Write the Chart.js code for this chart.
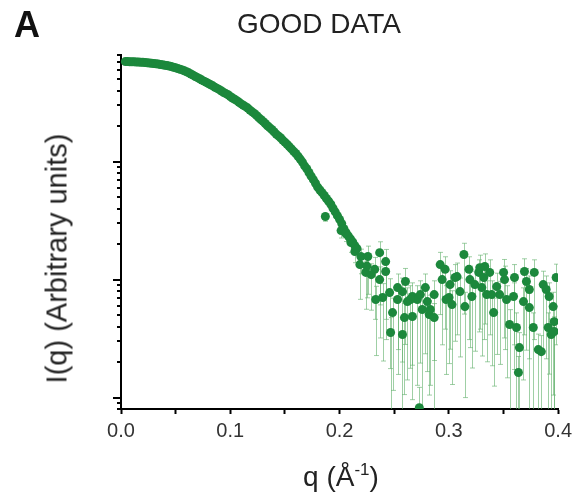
<!DOCTYPE html>
<html>
<head>
<meta charset="utf-8">
<script src="https://cdn.jsdelivr.net/npm/chart.js@4.4.1/dist/chart.umd.min.js"></script>
<style>
  body { margin: 0; background: #fff; }
  #wrap { position: relative; width: 577px; height: 497px; font-family: "Liberation Sans", Arial, sans-serif; color: #222; }
  #c { position: absolute; left: 0; top: 0; }
  .lbl { position: absolute; white-space: nowrap; line-height: 1; }
</style>
</head>
<body>
<div id="wrap">
  <canvas id="c" width="577" height="497"></canvas>
  <div class="lbl" style="left:14px; top:7px; font-size:36px; font-weight:bold; color:#111;">A</div>
  <div class="lbl" style="left:237px; top:10px; font-size:28px;">GOOD DATA</div>
  <div class="lbl" style="left:-78px; top:244px; width:270px; text-align:center; font-size:29px; transform:rotate(-90deg);">I(q) (Arbitrary units)</div>
  <div class="lbl" style="left:241px; top:461px; width:200px; text-align:center; font-size:28px;">q (Å<sup style="font-size:17px; vertical-align:11px;">-1</sup>)</div>
</div>
<script>
// q in 1/Å, intensity in arbitrary units (log axis)

// low q: smooth region, error bars smaller than the markers
const qLow = [0.004, 0.006, 0.008, 0.010, 0.012, 0.014, 0.016, 0.018, 0.020, 0.022,
              0.024, 0.026, 0.028, 0.030, 0.032, 0.034, 0.036, 0.038, 0.040, 0.042,
              0.044, 0.046, 0.048, 0.050, 0.052, 0.054, 0.056, 0.058, 0.060, 0.062,
              0.064, 0.066, 0.068, 0.070, 0.072, 0.074, 0.076, 0.078, 0.080, 0.082,
              0.084, 0.086, 0.088, 0.090, 0.092, 0.094, 0.096, 0.098, 0.100, 0.102,
              0.104, 0.106, 0.108, 0.110, 0.112, 0.114, 0.116, 0.118, 0.120, 0.122,
              0.124, 0.126, 0.128, 0.130, 0.132, 0.134, 0.136, 0.138, 0.140, 0.142,
              0.144, 0.146, 0.148, 0.150, 0.152, 0.154, 0.156, 0.158, 0.160, 0.162,
              0.164, 0.166, 0.168, 0.170, 0.172, 0.174, 0.176, 0.178, 0.180, 0.182,
              0.184, 0.186, 0.188, 0.190, 0.192, 0.194, 0.196, 0.198, 0.200, 0.202,
              0.204, 0.206, 0.208, 0.210, 0.212, 0.214, 0.216];
const iLow = [703, 704, 702, 701, 700, 698, 697, 695, 693, 691,
              688, 684, 681, 678, 674, 670, 664, 661, 655, 651,
              646, 638, 630, 623, 614, 606, 598, 587, 577, 565,
              552, 540, 526, 514, 503, 490, 480, 470, 459, 448,
              438, 426, 417, 407, 396, 385, 376, 368, 356, 346,
              337, 328, 318, 308, 300, 292, 284, 273, 264, 256,
              246, 236, 227, 219, 210, 201, 194, 187, 179, 171,
              165, 159, 152, 146, 140, 134, 128, 122, 117, 111,
              105, 99, 92, 87, 80.7, 75.2, 70.3, 65.5, 60.7, 57.4,
              54.5, 51.6, 48.6, 46.1, 43.5, 40.2, 37.5, 34.8, 32.4, 29.8,
              27.0, 25.0, 23.4, 22.1, 20.8, 19.4, 18.3];

// high q: noisy region with visible error bars
const qHigh = [0.187, 0.2014, 0.2059, 0.2104, 0.214, 0.2195,
               0.2186, 0.2240, 0.2259, 0.2322, 0.2331, 0.2367, 0.2367, 0.2395, 0.2422, 0.2422,
               0.2458, 0.2467, 0.2485, 0.2531, 0.2531, 0.2576, 0.2594, 0.2603, 0.2621, 0.2667,
               0.2667, 0.2712, 0.2730, 0.2757, 0.2785, 0.2803, 0.2821, 0.2866, 0.2866, 0.2921,
               0.2939, 0.2966, 0.3002, 0.3011, 0.3029, 0.3075, 0.3102, 0.3138, 0.3147, 0.3184,
               0.3193, 0.3211, 0.3238, 0.3274, 0.3320, 0.3329, 0.3347, 0.3374, 0.3410, 0.3438,
               0.3465, 0.3501, 0.3510, 0.3528, 0.3556, 0.3592, 0.3601, 0.3619, 0.3637, 0.3646,
               0.3683, 0.3692, 0.3710, 0.3737, 0.3737, 0.3773, 0.3782, 0.3819, 0.3846, 0.3864,
               0.3891, 0.3909, 0.3918, 0.3937, 0.3955, 0.3964, 0.3964, 0.3982,
               0.2250, 0.2290, 0.2576, 0.2649, 0.2739, 0.2830, 0.2975, 0.3057, 0.3283, 0.3302,
               0.3392];
const iHigh = [34.2, 26.0, 24.4, 20.6, 17.3, 15.7,
               13.4, 11.5, 15.7, 12.2, 6.77, 16.9, 10.0, 7.04, 14.2, 11.7,
               7.76, 3.56, 5.25, 6.77, 8.55, 3.42, 4.76, 9.62, 6.51, 7.18,
               4.86, 6.77, 0.82, 5.57, 8.55, 6.51, 5.05, 4.76, 7.46, 13.4,
               10.0, 12.2, 7.04, 9.07, 6.14, 10.6, 7.91, 16.3, 5.90, 12.2,
               10.0, 7.18, 9.07, 11.5, 10.4, 12.9, 7.46, 11.5, 5.25, 8.72,
               7.46, 11.5, 10.0, 6.77, 4.16, 7.18, 10.4, 3.92, 1.63, 2.65,
               6.51, 11.7, 9.62, 8.23, 5.79, 3.92, 11.5, 2.55, 2.45, 9.07,
               8.23, 3.92, 7.18, 3.42, 5.90, 4.40, 3.63, 10.4,
               13.0, 11.0, 7.9, 6.77, 7.46, 5.57, 6.77, 10.4, 12.6, 8.55,
               7.46];
const errPlus = [2.0, 2.4, 2.2, 2.4, 2.2, 2.4,
                 3.0, 2.8, 3.5, 3.2, 2.0, 4.0, 2.8, 2.2, 3.8, 3.0,
                 2.4, 1.2, 1.7, 2.1, 2.6, 1.2, 1.5, 2.8, 2.0, 2.2,
                 1.6, 2.1, 0.4, 1.8, 2.6, 2.0, 1.6, 1.5, 2.3, 3.6,
                 3.0, 3.4, 2.2, 2.8, 1.9, 3.2, 2.4, 4.0, 1.9, 3.4,
                 3.0, 2.2, 2.7, 3.2, 3.0, 3.6, 2.3, 3.2, 1.7, 2.6,
                 2.2, 3.3, 3.0, 2.1, 1.4, 2.2, 3.0, 1.3, 0.6, 0.9,
                 2.0, 3.3, 2.8, 2.5, 1.9, 1.3, 3.2, 0.9, 0.9, 2.7,
                 2.5, 1.3, 2.2, 1.2, 1.9, 1.4, 1.2, 3.1,
                 2.8, 2.6, 2.4, 2.1, 2.3, 1.8, 2.1, 3.0, 3.5, 2.6,
                 2.3];
const errMinus = [3.0, 3.5, 3.4, 3.6, 3.4, 4.5,
                  6.6, 5.9, 8.2, 7.6, 4.5, 10.8, 6.8, 5.0, 9.6, 8.6,
                  6.0, 3.56, 4.1, 5.2, 6.0, 3.42, 3.7, 6.8, 5.1, 5.3,
                  3.9, 5.5, 0.82, 5.57, 6.2, 4.85, 4.0, 4.76, 5.4, 8.35,
                  7.2, 8.4, 5.1, 6.5, 4.85, 7.2, 5.7, 11.2, 4.9, 9.1,
                  7.35, 5.4, 6.6, 7.9, 7.3, 8.7, 5.45, 8.1, 4.0, 6.4,
                  5.55, 8.3, 7.45, 5.3, 4.16, 5.45, 7.6, 3.92, 1.63, 2.65,
                  5.1, 8.3, 7.1, 6.1, 5.79, 3.92, 8.4, 2.55, 2.45, 6.6,
                  6.1, 3.92, 5.6, 3.42, 4.85, 4.4, 3.63, 7.6,
                  6.0, 5.5, 5.9, 5.0, 5.5, 4.3, 5.2, 7.4, 8.8, 6.3,
                  5.6];

// axis ranges and tick labels
const xMin = 0, xMax = 0.4;
const xMajorTicks = [0.0, 0.1, 0.2, 0.3, 0.4];
const yMin = 0.8, yMax = 800;
const yDecades = [0.1, 1, 10, 100];

const green = 'rgb(28,136,60)';

function asPoints(qs, is) {
    return qs.map((q, i) => ({ x: q, y: is[i] }));
}

// error bars drawn under the markers, through the chart scales
const errorBars = {
    id: 'errorBars',
    beforeDatasetsDraw(chart) {
        const { ctx, chartArea, scales: { x, y } } = chart;
        ctx.save();
        ctx.beginPath();
        ctx.rect(chartArea.left, chartArea.top, chartArea.right - chartArea.left, chartArea.bottom - chartArea.top);
        ctx.clip();
        ctx.strokeStyle = 'rgba(95,175,105,0.6)';
        ctx.lineWidth = 1;
        qHigh.forEach((q, i) => {
            const px = Math.round(x.getPixelForValue(q)) + 0.5;
            const top = y.getPixelForValue(iHigh[i] + errPlus[i]);
            const lowVal = iHigh[i] - errMinus[i];
            const bot = lowVal > y.min ? y.getPixelForValue(lowVal) : chartArea.bottom + 2;
            ctx.beginPath();
            ctx.moveTo(px, top); ctx.lineTo(px, bot);
            ctx.moveTo(px - 2.5, top); ctx.lineTo(px + 2.5, top);
            ctx.moveTo(px - 2.5, bot); ctx.lineTo(px + 2.5, bot);
            ctx.stroke();
        });
        ctx.restore();
    }
};

// log ticks on the y axis (major at decades, minor at 2..9)
const logTicks = {
    id: 'logTicks',
    afterDraw(chart) {
        const { ctx, chartArea, scales: { y } } = chart;
        ctx.save();
        ctx.strokeStyle = '#000';
        ctx.lineWidth = 2;
        yDecades.forEach(d => {
            for (let m = 1; m <= 9; m++) {
                const v = m * d;
                if (v < y.min - 1e-9 || v > y.max + 1e-9) continue;
                const py = Math.round(y.getPixelForValue(v));
                const len = m === 1 ? 8 : 4;
                ctx.beginPath();
                ctx.moveTo(chartArea.left - len, py);
                ctx.lineTo(chartArea.left, py);
                ctx.stroke();
            }
        });
        ctx.restore();
    }
};

new Chart(document.getElementById('c'), {
    type: 'scatter',
    data: {
        datasets: [{
            data: asPoints(qLow, iLow),
            backgroundColor: green,
            borderWidth: 0,
            pointRadius: 4.5,
            pointHoverRadius: 4.5
        }, {
            data: asPoints(qHigh, iHigh),
            backgroundColor: green,
            borderWidth: 0,
            pointRadius: 4.5,
            pointHoverRadius: 4.5
        }]
    },
    options: {
        responsive: false,
        animation: false,
        devicePixelRatio: 1,
        layout: { padding: { top: 55, right: 15, left: 0, bottom: 0 } },
        plugins: { legend: { display: false }, tooltip: { enabled: false }, title: { display: false } },
        scales: {
            x: {
                type: 'linear',
                min: xMin, max: xMax,
                afterBuildTicks: scale => {
                    const t = [];
                    for (let k = 0; k <= 8; k++) t.push({ value: k * 0.05 });
                    scale.ticks = t;
                },
                ticks: {
                    autoSkip: false,
                    maxRotation: 0,
                    padding: 5,
                    color: '#333',
                    font: { family: '"Liberation Sans", Arial, sans-serif', size: 20 },
                    callback: v => {
                        const hit = xMajorTicks.find(t => Math.abs(t - v) < 1e-6);
                        return hit === undefined ? '' : hit.toFixed(1);
                    }
                },
                grid: { display: true, drawOnChartArea: false, drawTicks: true, tickLength: 5, tickColor: '#000', tickWidth: 2 },
                border: { display: true, color: '#000', width: 2 },
                afterFit: scale => { scale.height = 88; }
            },
            y: {
                type: 'logarithmic',
                min: yMin, max: yMax,
                ticks: { display: false },
                grid: { display: false },
                border: { display: true, color: '#000', width: 2 },
                afterFit: scale => { scale.width = 121; }
            }
        }
    },
    plugins: [errorBars, logTicks]
});
</script>
</body>
</html>
